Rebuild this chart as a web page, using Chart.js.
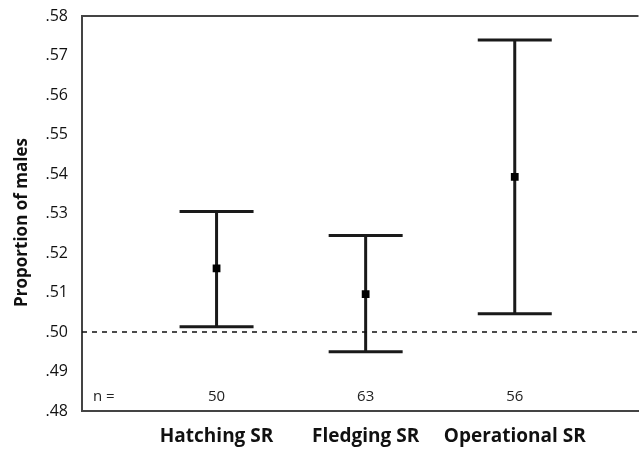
<!DOCTYPE html>
<html>
<head>
<meta charset="utf-8">
<script src="https://cdn.jsdelivr.net/npm/chart.js@4"></script>
<style>
  html, body { margin: 0; padding: 0; background: #fff; }
  #wrap { width: 644px; height: 452px; }
</style>
</head>
<body>
<div id="wrap"><canvas id="srChart" width="644" height="452"></canvas></div>
<script>
// data
var categories = ["Hatching SR", "Fledging SR", "Operational SR"];
var means = [0.5161, 0.5096, 0.5393];
var upper = [0.5305, 0.5244, 0.5739];
var lower = [0.5013, 0.4950, 0.5046];
var sampleSizes = [50, 63, 56];
var referenceLine = 0.50;
var yTitle = "Proportion of males";

var xPos = categories.map(function (c, i) { return i + 1; });
var meanPoints = [];
for (var i = 0; i < categories.length; i++) {
    meanPoints.push({ x: xPos[i], y: means[i] });
}

var FONT = '"Open Sans", Lato, sans-serif';

// error bars, n labels, top frame line and y title
var errorBarPlugin = {
    id: 'errorBars',
    beforeDatasetsDraw: function (chart) {
        var ctx = chart.ctx;
        var xs = chart.scales.x, ys = chart.scales.y;
        var area = chart.chartArea;
        ctx.save();
        // top frame line
        ctx.strokeStyle = '#444';
        ctx.lineWidth = 2;
        ctx.beginPath();
        ctx.moveTo(area.left, area.top);
        ctx.lineTo(area.right, area.top);
        ctx.stroke();

        ctx.strokeStyle = '#1a1a1a';
        ctx.lineWidth = 3;
        for (var i = 0; i < xPos.length; i++) {
            var px = xs.getPixelForValue(xPos[i]);
            var top = ys.getPixelForValue(upper[i]);
            var bot = ys.getPixelForValue(lower[i]);
            ctx.beginPath();
            ctx.moveTo(px, top); ctx.lineTo(px, bot);
            ctx.moveTo(px - 37, top); ctx.lineTo(px + 37, top);
            ctx.moveTo(px - 37, bot); ctx.lineTo(px + 37, bot);
            ctx.stroke();
        }
        ctx.restore();
    },
    afterDraw: function (chart) {
        var ctx = chart.ctx;
        var xs = chart.scales.x, ys = chart.scales.y;
        var yText = chart.chartArea.bottom - 14;
        ctx.save();
        ctx.fillStyle = '#222';
        ctx.font = '15px ' + FONT;
        ctx.textAlign = 'center';
        ctx.textBaseline = 'middle';
        for (var i = 0; i < xPos.length; i++) {
            ctx.fillText(String(sampleSizes[i]), xs.getPixelForValue(xPos[i]), yText);
        }
        ctx.textAlign = 'left';
        ctx.fillText('n =', chart.chartArea.left + 11, yText);

        // rotated y axis title
        var midY = (ys.getPixelForValue(0.48) + ys.getPixelForValue(0.58)) / 2 + 9;
        ctx.translate(22, midY);
        ctx.rotate(-Math.PI / 2);
        ctx.textAlign = 'center';
        ctx.fillStyle = '#111';
        ctx.font = 'bold 17px ' + FONT;
        ctx.fillText(yTitle, 0, 0);
        ctx.restore();
    }
};

var ctx = document.getElementById('srChart').getContext('2d');
var srChart = new Chart(ctx, {
    type: 'scatter',
    data: {
        datasets: [
            {
                type: 'line',
                data: [{ x: 0.0975, y: referenceLine }, { x: 3.83, y: referenceLine }],
                borderColor: '#111',
                borderWidth: 1.3,
                borderDash: [5, 5],
                pointRadius: 0,
                fill: false
            },
            {
                data: meanPoints,
                pointStyle: 'rect',
                pointRadius: 5.5,
                backgroundColor: '#000',
                borderColor: '#000',
                borderWidth: 0
            }
        ]
    },
    options: {
        responsive: false,
        animation: false,
        layout: { padding: { top: 16, right: 0, bottom: 0, left: 0 } },
        plugins: {
            legend: { display: false },
            tooltip: { enabled: false }
        },
        scales: {
            x: {
                type: 'linear',
                min: 0.0975,
                max: 3.83,
                grid: { display: false },
                border: { display: true, color: '#444', width: 2 },
                afterBuildTicks: function (axis) {
                    axis.ticks = xPos.map(function (v) { return { value: v }; });
                },
                afterFit: function (axis) { axis.height = 41; },
                ticks: {
                    padding: 6,
                    color: '#111',
                    font: { family: FONT, size: 19, weight: 'bold' },
                    callback: function (v) { return categories[v - 1]; }
                }
            },
            y: {
                min: 0.48,
                max: 0.58,
                grid: { display: false },
                border: { display: true, color: '#444', width: 2 },
                afterFit: function (axis) { axis.width = 82; },
                ticks: {
                    stepSize: 0.01,
                    padding: 6,
                    color: '#111',
                    font: { family: FONT, size: 16 },
                    callback: function (v) { return v.toFixed(2).replace(/^0/, ''); }
                }
            }
        }
    },
    plugins: [errorBarPlugin]
});
</script>
</body>
</html>
